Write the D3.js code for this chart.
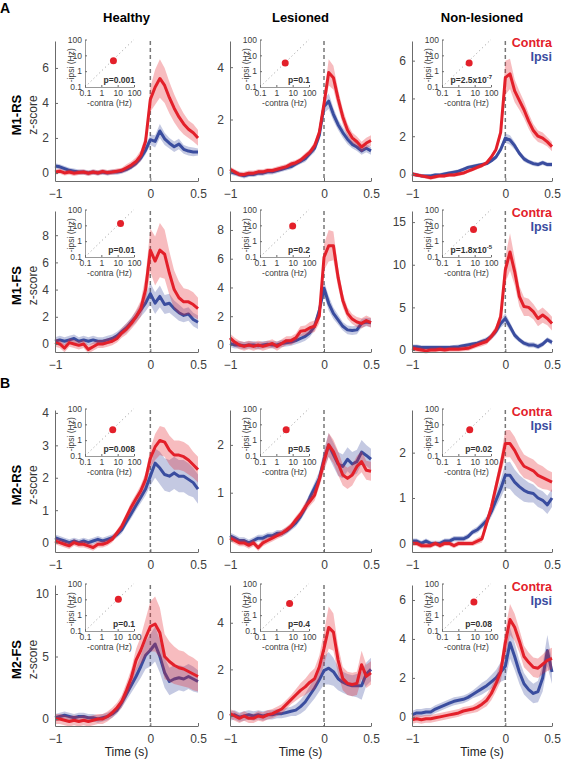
<!DOCTYPE html>
<html>
<head>
<meta charset="utf-8">
<script src="https://cdn.jsdelivr.net/npm/d3@7"></script>
<style>
  body { margin: 0; background: #fff; }
  text { font-family: "Liberation Sans", Arial, sans-serif; }
</style>
</head>
<body>
<svg id="chart" width="564" height="767"></svg>
<script>
// time axis (s), one sample every 50 ms
var time = [-1,-0.95,-0.9,-0.85,-0.8,-0.75,-0.7,-0.65,-0.6,-0.55,-0.5,-0.45,-0.4,-0.35,-0.3,-0.25,-0.2,-0.15,-0.1,-0.05,0,0.05,0.1,0.15,0.2,0.25,0.3,0.35,0.4,0.45,0.5];

var columns = ["Healthy", "Lesioned", "Non-lesioned"];
var rowNames = ["M1-RS", "M1-FS", "M2-RS", "M2-FS"];
var xTicks = [-1, 0, 0.5];

// y range and ticks for each row / column
var yDomains = [
  [[-0.46, 7.54], [-0.35, 5.0], [-0.37, 7.04]],
  [[-0.59, 9.78], [-0.49, 9.32], [-0.23, 16.3]],
  [[-0.29, 4.09], [-0.24, 2.73], [-0.19, 2.94]],
  [[-0.56, 10.72], [-0.43, 5.62], [-0.47, 6.77]]
];
var yTicks = [
  [[0,2,4,6], [0,2,4], [0,2,4,6]],
  [[0,2,4,6,8], [0,2,4,6,8], [0,5,10,15]],
  [[0,1,2,3,4], [0,1,2], [0,1,2]],
  [[0,5,10], [0,2,4], [0,2,4,6]]
];

// M1-RS  (healthy, lesioned, non-lesioned)
var m1rsContra = [
  [0.05,0.1,0.0,0.05,-0.02,0.03,0.05,-0.02,0.05,0.0,0.08,0.02,0.05,0.1,0.15,0.3,0.45,0.65,1.0,1.8,4.2,4.9,5.4,5.0,4.3,3.7,3.2,2.8,2.5,2.3,2.0],
  [0.1,0.0,-0.1,-0.1,-0.05,-0.05,0.0,0.0,0.05,0.05,0.1,0.15,0.2,0.3,0.35,0.45,0.6,0.75,1.0,1.5,2.6,3.8,3.6,2.8,2.1,1.6,1.3,1.15,0.95,1.1,1.2],
  [0.0,-0.05,-0.1,-0.15,-0.2,-0.15,-0.1,-0.1,-0.05,-0.05,0.0,0.05,0.15,0.25,0.35,0.45,0.6,0.9,1.3,2.2,5.1,5.3,4.4,3.9,3.4,2.8,2.3,2.0,1.9,1.7,1.45]
];
var m1rsContraSem = [
  [0.15,0.15,0.15,0.15,0.15,0.15,0.15,0.15,0.15,0.15,0.15,0.15,0.15,0.15,0.15,0.2,0.2,0.25,0.3,0.4,0.7,1.0,1.1,1.0,0.9,0.8,0.7,0.6,0.5,0.5,0.45],
  [0.1,0.1,0.1,0.1,0.1,0.1,0.1,0.1,0.1,0.1,0.1,0.1,0.1,0.1,0.1,0.1,0.12,0.12,0.15,0.2,0.3,0.5,0.45,0.35,0.3,0.25,0.2,0.2,0.2,0.2,0.2],
  [0.1,0.1,0.1,0.1,0.1,0.1,0.1,0.1,0.1,0.1,0.1,0.1,0.1,0.1,0.1,0.1,0.1,0.12,0.15,0.3,0.9,0.8,0.6,0.5,0.45,0.4,0.35,0.3,0.3,0.25,0.25]
];
var m1rsIpsi = [
  [0.4,0.35,0.25,0.15,0.1,0.05,0.05,0.0,0.05,0.0,0.05,0.0,0.05,0.05,0.1,0.2,0.35,0.55,0.85,1.3,1.9,1.8,2.4,1.95,1.7,1.5,1.65,1.35,1.25,1.2,1.2],
  [0.0,-0.05,-0.1,-0.15,-0.1,-0.1,-0.05,-0.05,0.0,0.0,0.05,0.1,0.15,0.2,0.3,0.4,0.5,0.7,0.9,1.4,2.5,2.7,2.2,1.8,1.5,1.25,1.05,0.95,0.8,0.9,0.8],
  [0.0,-0.05,-0.1,-0.1,-0.1,-0.05,-0.05,0.0,0.05,0.1,0.15,0.25,0.35,0.4,0.45,0.5,0.55,0.7,0.9,1.3,1.9,1.8,1.5,1.1,0.8,0.65,0.55,0.5,0.6,0.5,0.5]
];
var m1rsIpsiSem = [
  [0.15,0.15,0.15,0.15,0.15,0.15,0.15,0.15,0.15,0.15,0.15,0.15,0.15,0.15,0.15,0.15,0.15,0.15,0.2,0.25,0.3,0.35,0.4,0.35,0.3,0.3,0.3,0.25,0.25,0.25,0.2],
  [0.1,0.1,0.1,0.1,0.1,0.1,0.1,0.1,0.1,0.1,0.1,0.1,0.1,0.1,0.1,0.1,0.12,0.12,0.15,0.2,0.25,0.3,0.25,0.2,0.2,0.2,0.15,0.15,0.15,0.15,0.15],
  [0.1,0.1,0.1,0.1,0.1,0.1,0.1,0.1,0.1,0.1,0.1,0.1,0.1,0.1,0.1,0.1,0.1,0.1,0.12,0.15,0.25,0.25,0.2,0.15,0.15,0.12,0.12,0.12,0.12,0.12,0.12]
];

// M1-FS
var m1fsContra = [
  [0.1,0.0,-0.3,0.1,0.0,-0.1,0.0,-0.4,-0.2,0.0,0.0,0.1,0.2,0.4,0.8,1.1,1.5,2.0,2.6,4.0,6.9,6.1,6.9,6.6,5.2,4.0,3.4,3.1,3.1,2.9,2.6],
  [0.5,0.2,0.0,-0.1,0.0,-0.1,0.0,-0.1,0.0,0.1,-0.1,0.1,0.3,0.3,0.5,0.95,1.0,1.2,1.3,2.0,6.1,6.9,6.9,4.7,3.1,2.2,1.8,1.6,1.5,1.7,1.55],
  [0.2,0.1,0.0,-0.1,0.0,0.0,0.1,0.0,0.1,0.1,0.1,0.15,0.2,0.4,0.6,0.8,1.0,1.6,2.35,3.9,9.4,11.5,9.2,6.3,5.1,5.0,4.5,3.7,4.1,3.7,3.1]
];
var m1fsContraSem = [
  [0.3,0.3,0.3,0.3,0.3,0.3,0.3,0.3,0.3,0.3,0.3,0.3,0.3,0.3,0.35,0.4,0.4,0.5,0.6,1.0,1.6,1.8,2.0,1.8,1.6,1.4,1.2,1.0,0.9,0.9,0.8],
  [0.3,0.3,0.3,0.3,0.3,0.3,0.3,0.3,0.3,0.3,0.3,0.3,0.3,0.3,0.3,0.35,0.35,0.4,0.4,0.5,0.9,1.1,1.0,0.7,0.5,0.4,0.35,0.35,0.35,0.35,0.35],
  [0.3,0.3,0.3,0.3,0.3,0.3,0.3,0.3,0.3,0.3,0.3,0.3,0.3,0.3,0.3,0.35,0.35,0.4,0.5,0.7,1.5,2.2,1.6,1.2,1.1,1.0,0.9,0.9,0.9,0.8,0.8]
];
var m1fsIpsi = [
  [0.2,0.3,0.2,0.3,0.4,0.2,0.3,0.2,0.3,0.2,0.2,0.3,0.4,0.6,0.9,1.2,1.6,2.0,2.5,3.0,3.7,3.0,3.5,2.9,3.0,2.6,2.3,2.1,2.2,1.8,1.6],
  [0.1,0.0,0.0,-0.05,0.0,0.0,-0.05,0.0,0.05,0.0,0.0,0.1,0.15,0.2,0.3,0.45,0.6,0.85,1.3,2.4,3.95,2.9,2.2,1.75,1.3,1.05,1.0,1.05,1.5,1.6,1.55],
  [0.4,0.4,0.3,0.3,0.3,0.3,0.3,0.3,0.3,0.35,0.4,0.5,0.6,0.7,0.8,1.0,1.2,1.6,2.2,3.1,3.7,2.75,1.75,1.2,0.8,0.6,0.6,0.4,0.7,1.2,0.9]
];
var m1fsIpsiSem = [
  [0.3,0.3,0.3,0.3,0.3,0.3,0.3,0.3,0.3,0.3,0.3,0.3,0.3,0.3,0.3,0.35,0.35,0.4,0.5,0.6,0.8,0.8,0.8,0.7,0.7,0.6,0.6,0.5,0.5,0.5,0.5],
  [0.25,0.25,0.25,0.25,0.25,0.25,0.25,0.25,0.25,0.25,0.25,0.25,0.25,0.25,0.25,0.3,0.3,0.3,0.3,0.35,0.5,0.5,0.4,0.35,0.3,0.3,0.3,0.3,0.3,0.3,0.3],
  [0.25,0.25,0.25,0.25,0.25,0.25,0.25,0.25,0.25,0.25,0.25,0.25,0.25,0.25,0.25,0.3,0.3,0.35,0.4,0.5,0.6,0.5,0.4,0.3,0.3,0.3,0.3,0.3,0.3,0.3,0.3]
];

// M2-RS
var m2rsContra = [
  [0.05,0.0,-0.05,-0.1,0.0,-0.05,-0.05,-0.1,-0.15,-0.05,-0.05,0.0,0.1,0.3,0.5,0.8,1.1,1.35,1.6,1.95,2.6,2.95,3.15,3.1,2.85,2.7,2.7,2.65,2.55,2.4,2.25],
  [0.05,0.0,-0.05,-0.05,-0.1,-0.05,-0.15,-0.05,0.0,0.05,0.1,0.15,0.22,0.3,0.43,0.55,0.7,0.82,0.95,1.27,1.65,2.0,1.86,1.62,1.37,1.3,1.37,1.55,1.65,1.47,1.45],
  [0.0,0.0,-0.05,-0.05,-0.05,0.0,-0.05,0.0,0.0,-0.05,0.0,0.0,0.0,0.0,0.05,0.1,0.45,0.8,1.25,1.7,2.2,2.2,2.05,1.85,1.7,1.65,1.6,1.5,1.45,1.4,1.35]
];
var m2rsContraSem = [
  [0.1,0.1,0.1,0.1,0.1,0.1,0.1,0.1,0.1,0.1,0.1,0.1,0.1,0.1,0.12,0.12,0.15,0.15,0.18,0.2,0.3,0.4,0.45,0.45,0.45,0.45,0.45,0.45,0.45,0.4,0.4],
  [0.07,0.07,0.07,0.07,0.07,0.07,0.07,0.07,0.07,0.07,0.07,0.07,0.07,0.07,0.08,0.08,0.1,0.1,0.12,0.15,0.2,0.25,0.25,0.25,0.22,0.22,0.22,0.22,0.22,0.2,0.2],
  [0.06,0.06,0.06,0.06,0.06,0.06,0.06,0.06,0.06,0.06,0.06,0.06,0.06,0.06,0.07,0.08,0.1,0.12,0.15,0.2,0.3,0.3,0.3,0.28,0.26,0.25,0.25,0.25,0.25,0.22,0.22]
];
var m2rsIpsi = [
  [0.15,0.1,0.05,0.0,0.05,0.0,0.05,0.0,0.05,0.1,0.05,0.1,0.15,0.25,0.4,0.65,0.9,1.15,1.4,1.65,2.05,2.45,2.3,2.1,2.05,2.15,2.05,2.05,1.95,1.85,1.65],
  [0.1,0.05,0.0,0.0,-0.05,0.0,0.05,0.05,0.1,0.1,0.15,0.15,0.2,0.28,0.37,0.5,0.68,0.9,1.1,1.3,1.7,2.0,1.8,1.6,1.55,1.7,1.6,1.65,1.85,1.78,1.7],
  [0.05,0.05,0.0,0.05,0.0,0.0,0.0,0.05,0.05,0.1,0.1,0.1,0.15,0.25,0.3,0.4,0.5,0.7,0.95,1.2,1.5,1.5,1.35,1.25,1.17,1.12,1.1,1.0,0.95,0.85,1.0]
];
var m2rsIpsiSem = [
  [0.1,0.1,0.1,0.1,0.1,0.1,0.1,0.1,0.1,0.1,0.1,0.1,0.1,0.1,0.12,0.12,0.15,0.15,0.18,0.2,0.3,0.45,0.5,0.5,0.5,0.5,0.5,0.5,0.5,0.45,0.45],
  [0.07,0.07,0.07,0.07,0.07,0.07,0.07,0.07,0.07,0.07,0.07,0.07,0.07,0.07,0.08,0.08,0.1,0.1,0.12,0.15,0.2,0.25,0.25,0.25,0.25,0.25,0.25,0.25,0.25,0.22,0.22],
  [0.06,0.06,0.06,0.06,0.06,0.06,0.06,0.06,0.06,0.06,0.06,0.06,0.06,0.06,0.07,0.08,0.1,0.12,0.15,0.2,0.28,0.3,0.28,0.26,0.25,0.22,0.2,0.2,0.2,0.2,0.2]
];

// M2-FS
var m2fsContra = [
  [0.0,0.0,-0.1,-0.2,-0.1,-0.2,-0.1,-0.2,-0.1,0.0,0.0,0.2,0.5,0.9,1.4,2.3,3.3,4.7,5.5,6.5,7.4,7.6,6.9,5.0,4.6,4.3,4.1,4.0,3.8,3.6,3.4],
  [0.1,0.0,-0.1,0.0,-0.1,-0.1,0.0,-0.05,0.05,0.1,0.2,0.3,0.5,0.7,0.9,1.1,1.25,1.45,1.6,2.1,2.9,3.8,3.6,2.4,1.6,1.4,1.35,1.4,2.2,1.7,1.85],
  [-0.15,-0.1,-0.15,-0.1,-0.1,-0.05,0.0,0.05,0.1,0.15,0.2,0.3,0.35,0.4,0.5,0.65,0.85,1.2,1.7,2.3,3.8,5.0,4.6,3.9,3.1,2.8,2.55,2.5,2.7,2.9,3.0]
];
var m2fsContraSem = [
  [0.4,0.4,0.4,0.4,0.4,0.4,0.4,0.4,0.4,0.4,0.4,0.4,0.4,0.4,0.5,0.6,0.7,0.9,1.1,1.5,2.0,2.2,2.0,1.8,1.6,1.5,1.4,1.4,1.3,1.3,1.2],
  [0.2,0.2,0.2,0.2,0.2,0.2,0.2,0.2,0.2,0.2,0.2,0.2,0.2,0.2,0.25,0.3,0.35,0.4,0.45,0.5,0.7,0.9,0.8,0.6,0.5,0.5,0.5,0.5,0.6,0.5,0.5],
  [0.2,0.2,0.2,0.2,0.2,0.2,0.2,0.2,0.2,0.2,0.2,0.2,0.2,0.2,0.25,0.25,0.3,0.35,0.4,0.5,0.7,0.8,0.7,0.6,0.55,0.5,0.5,0.5,0.5,0.55,0.55]
];
var m2fsIpsi = [
  [0.1,0.2,0.3,0.2,0.1,0.2,0.2,0.1,0.1,0.0,0.1,0.2,0.4,0.7,1.3,2.0,2.7,3.4,4.2,5.1,5.5,6.0,5.0,3.7,3.0,3.2,3.3,3.2,3.4,3.2,3.0],
  [0.0,0.05,-0.05,0.0,0.05,0.0,0.05,0.0,0.05,0.05,0.1,0.1,0.15,0.2,0.25,0.4,0.6,0.9,1.2,1.55,1.95,2.05,1.9,1.6,1.45,1.35,1.3,1.3,1.3,1.8,2.0],
  [0.1,0.2,0.2,0.25,0.25,0.4,0.5,0.6,0.7,0.8,0.85,0.9,1.0,1.15,1.3,1.45,1.6,1.8,2.0,2.3,2.6,3.8,3.1,2.3,1.7,1.4,1.2,1.3,2.0,3.4,2.3]
];
var m2fsIpsiSem = [
  [0.3,0.3,0.3,0.3,0.3,0.3,0.3,0.3,0.3,0.3,0.3,0.3,0.3,0.3,0.4,0.5,0.6,0.7,0.9,1.1,1.3,1.4,1.3,1.2,1.1,1.1,1.0,1.0,1.0,1.0,0.9],
  [0.2,0.2,0.2,0.2,0.2,0.2,0.2,0.2,0.2,0.2,0.2,0.2,0.2,0.2,0.25,0.3,0.35,0.4,0.45,0.5,0.6,0.7,0.6,0.5,0.45,0.45,0.45,0.5,0.6,0.5,0.5],
  [0.2,0.2,0.2,0.2,0.2,0.2,0.2,0.2,0.2,0.2,0.2,0.2,0.2,0.2,0.25,0.3,0.3,0.35,0.4,0.5,0.7,0.8,0.7,0.6,0.55,0.5,0.5,0.55,0.7,0.8,0.6]
];

// inset: mean firing rate contra vs ipsi (Hz) and p value
var insetContra = [[5.5, 3.5, 4.6], [15, 10, 8.5], [5, 4, 5], [11, 6.5, 9]];
var insetIpsi   = [[4.5, 3.3, 3.3], [13, 9, 5.5], [4.5, 4.6, 4.6], [10, 5.5, 6.8]];
var pValues = [
  ["0.001", "0.1", "2.5x10^-7"],
  ["0.01", "0.2", "1.8x10^-5"],
  ["0.008", "0.5", "0.02"],
  ["0.1", "0.4", "0.08"]
];
var insetTicks = [0.1, 1, 10, 100];

var rowData = [
  {contra: m1rsContra, contraSem: m1rsContraSem, ipsi: m1rsIpsi, ipsiSem: m1rsIpsiSem},
  {contra: m1fsContra, contraSem: m1fsContraSem, ipsi: m1fsIpsi, ipsiSem: m1fsIpsiSem},
  {contra: m2rsContra, contraSem: m2rsContraSem, ipsi: m2rsIpsi, ipsiSem: m2rsIpsiSem},
  {contra: m2fsContra, contraSem: m2fsContraSem, ipsi: m2fsIpsi, ipsiSem: m2fsIpsiSem}
];

// layout
var colLeft = [55, 230, 412], colWidth = [143, 141, 140];
var rowTop = [41, 211, 410, 585], rowBottom = [181, 352, 552, 726];
var red = "#e3202a", blue = "#3a4d9f";
var axisColor = "#6b6b6b", labelColor = "#404040";

var svg = d3.select("#chart");

// panel letters
svg.append("text").attr("x", 0).attr("y", 13).attr("font-size", 14).attr("font-weight", "bold").text("A");
svg.append("text").attr("x", 0).attr("y", 388).attr("font-size", 14).attr("font-weight", "bold").text("B");

// column titles
columns.forEach(function(name, c) {
  svg.append("text")
    .attr("x", colLeft[c] + colWidth[c] / 2).attr("y", 22)
    .attr("text-anchor", "middle").attr("font-size", 13).attr("font-weight", "bold")
    .text(name);
  svg.append("text")
    .attr("x", colLeft[c] + colWidth[c] / 2).attr("y", 756)
    .attr("text-anchor", "middle").attr("font-size", 12).attr("fill", "#222")
    .text("Time (s)");
});

function styleAxis(g, size) {
  g.attr("font-size", size).attr("font-family", null);
  g.select(".domain").attr("stroke", axisColor);
  g.selectAll(".tick line").attr("stroke", axisColor);
  g.selectAll(".tick text").attr("fill", labelColor);
}

rowNames.forEach(function(rowName, r) {
  var midY = (rowTop[r] + rowBottom[r]) / 2 + 4;

  // row labels
  svg.append("text")
    .attr("transform", "translate(21," + midY + ") rotate(-90)")
    .attr("text-anchor", "middle").attr("font-size", 13).attr("font-weight", "bold")
    .text(rowName);
  svg.append("text")
    .attr("transform", "translate(37," + midY + ") rotate(-90)")
    .attr("text-anchor", "middle").attr("font-size", 12).attr("fill", "#333")
    .text("z-score");

  columns.forEach(function(colName, c) {
    var pl = colLeft[c], pr = pl + colWidth[c], pt = rowTop[r], pb = rowBottom[r];
    var x = d3.scaleLinear().domain([-1, 0.5]).range([pl, pr]);
    var y = d3.scaleLinear().domain(yDomains[r][c]).range([pb, pt]);
    var g = svg.append("g");

    // dashed line at t = 0
    g.append("line")
      .attr("x1", x(0)).attr("x2", x(0)).attr("y1", pt).attr("y2", pb)
      .attr("stroke", "#777").attr("stroke-width", 1.5).attr("stroke-dasharray", "4,3");

    var series = [
      {mean: rowData[r].ipsi[c], sem: rowData[r].ipsiSem[c], color: blue},
      {mean: rowData[r].contra[c], sem: rowData[r].contraSem[c], color: red}
    ];
    series.forEach(function(s) {
      var pts = time.map(function(t, i) { return {t: t, m: s.mean[i], e: s.sem[i]}; });
      g.append("path").datum(pts)
        .attr("d", d3.area()
          .x(function(d) { return x(d.t); })
          .y0(function(d) { return y(d.m - d.e); })
          .y1(function(d) { return y(d.m + d.e); }))
        .attr("fill", s.color).attr("fill-opacity", 0.3);
      g.append("path").datum(pts)
        .attr("d", d3.line()
          .x(function(d) { return x(d.t); })
          .y(function(d) { return y(d.m); }))
        .attr("fill", "none").attr("stroke", s.color)
        .attr("stroke-width", 3).attr("stroke-linejoin", "round");
    });

    // axes
    var ya = g.append("g").attr("transform", "translate(" + pl + ",0)")
      .call(d3.axisLeft(y).tickValues(yTicks[r][c]).tickFormat(d3.format("~g")).tickSize(-3).tickPadding(6).tickSizeOuter(0));
    styleAxis(ya, 12);
    var xa = g.append("g").attr("transform", "translate(0," + pb + ")")
      .call(d3.axisBottom(x).tickValues(xTicks).tickFormat(d3.format("~g")).tickSize(-3).tickPadding(8).tickSizeOuter(0));
    styleAxis(xa, 12);

    // inset scatter
    var ix = d3.scaleLog().domain([0.1, 100]).range([pl + 30, pl + 79]);
    var iy = d3.scaleLog().domain([0.1, 100]).range([pt + 46, pt - 1.5]);
    var ins = g.append("g");
    ins.append("line")
      .attr("x1", ix(0.1)).attr("y1", iy(0.1)).attr("x2", ix(100)).attr("y2", iy(100))
      .attr("stroke", "#999").attr("stroke-width", 1).attr("stroke-dasharray", "1,3");
    var iya = ins.append("g").attr("transform", "translate(" + ix(0.1) + ",0)")
      .call(d3.axisLeft(iy).tickValues(insetTicks).tickFormat(d3.format("~g")).tickSize(-2).tickPadding(3).tickSizeOuter(0));
    styleAxis(iya, 8.5);
    iya.select(".domain").attr("stroke", "#999");
    var ixa = ins.append("g").attr("transform", "translate(0," + iy(0.1) + ")")
      .call(d3.axisBottom(ix).tickValues(insetTicks).tickFormat(d3.format("~g")).tickSize(-2).tickPadding(3).tickSizeOuter(0));
    styleAxis(ixa, 8.5);
    ixa.select(".domain").attr("stroke", "#999");
    ins.append("text")
      .attr("x", (ix(0.1) + ix(100)) / 2).attr("y", iy(0.1) + 19)
      .attr("text-anchor", "middle").attr("font-size", 8.5).attr("fill", labelColor)
      .text("-contra (Hz)");
    ins.append("text")
      .attr("transform", "translate(" + (ix(0.1) - 11) + "," + ((iy(0.1) + iy(100)) / 2 + 2) + ") rotate(-90)")
      .attr("text-anchor", "middle").attr("font-size", 8.5).attr("fill", labelColor)
      .text("-ipsi (Hz)");
    ins.append("circle")
      .attr("cx", ix(insetContra[r][c])).attr("cy", iy(insetIpsi[r][c])).attr("r", 3.5)
      .attr("fill", red);

    var pParts = pValues[r][c].split("^");
    var pLabel = ins.append("text")
      .attr("x", ix(100) + 1).attr("y", iy(0.1) - 4.5)
      .attr("text-anchor", "end").attr("font-size", 8.5).attr("font-weight", "bold").attr("fill", "#333");
    pLabel.append("tspan").text("p=" + pParts[0]);
    if (pParts.length > 1) {
      pLabel.append("tspan").attr("dy", -3.5).attr("font-size", 6).text(pParts[1]);
    }

    // legend in the right-hand column
    if (c === 2) {
      g.append("text").attr("x", pr).attr("y", pt + 6)
        .attr("text-anchor", "end").attr("font-size", 12.5).attr("font-weight", "bold")
        .attr("fill", red).text("Contra");
      g.append("text").attr("x", pr).attr("y", pt + 19.5)
        .attr("text-anchor", "end").attr("font-size", 12.5).attr("font-weight", "bold")
        .attr("fill", blue).text("Ipsi");
    }
  });
});
</script>
</body>
</html>
